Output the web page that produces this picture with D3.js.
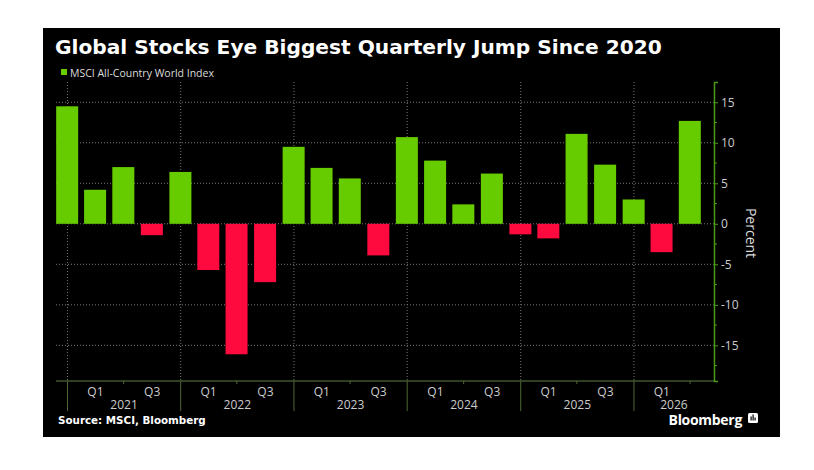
<!DOCTYPE html>
<html>
<head>
<meta charset="utf-8">
<script src="https://cdn.jsdelivr.net/npm/d3@7"></script>
<style>
  body { margin: 0; background: #fff; }
  text { font-family: "Open Sans", "DejaVu Sans", sans-serif; }
</style>
</head>
<body>
<svg id="chart" width="814" height="470"></svg>
<script>
// quarter end dates (bar positions) and MSCI ACWI quarterly % change
var quarterEnds = ["2020-12-31","2021-03-31","2021-06-30","2021-09-30","2021-12-31",
  "2022-03-31","2022-06-30","2022-09-30","2022-12-31","2023-03-31","2023-06-30",
  "2023-09-30","2023-12-31","2024-03-31","2024-06-30","2024-09-30","2024-12-31",
  "2025-03-31","2025-06-30","2025-09-30","2025-12-31","2026-03-31","2026-06-30"];
var changes = [14.5, 4.2, 7.0, -1.4, 6.4, -5.7, -16.1, -7.2, 9.5, 6.9, 5.6, -3.9,
  10.7, 7.8, 2.4, 6.2, -1.3, -1.8, 11.1, 7.3, 3.0, -3.5, 12.7];

var years = [2021, 2022, 2023, 2024, 2025, 2026];
var halfLabels = ["Q1", "Q3"];
var yTicks = [-15, -10, -5, 0, 5, 10, 15];
var yMinor = [-17.5, -12.5, -7.5, -2.5, 2.5, 7.5, 12.5];

var title = "Global Stocks Eye Biggest Quarterly Jump Since 2020";
var legendLabel = "MSCI All-Country World Index";
var source = "Source: MSCI, Bloomberg";

var GREEN = "#66cc00", RED = "#ff0a3f";

(function () {
var svg = d3.select("#chart");
var parse = d3.utcParse("%Y-%m-%d");
function d(y, m, day) { return new Date(Date.UTC(y, m, day)); }

// squeeze/stretch a text to a given width via font size
function fitWidth(sel, size, width) {
  var w = sel.node().getComputedTextLength();
  sel.attr("font-size", size * width / w);
}

// plot box
var pLeft = 56, pRight = 714, pTop = 82, pBottom = 381;

// black panel
svg.append("rect")
  .attr("x", 43).attr("y", 28)
  .attr("width", 737).attr("height", 409)
  .attr("fill", "#000");

var x = d3.scaleUtc()
  .domain([d(2020, 10, 25), d(2026, 8, 16)])
  .range([pLeft, pRight]);

var y = d3.scaleLinear()
  .domain([-19.4, 17.5])
  .range([pBottom, pTop]);

// title
var t = svg.append("text")
  .attr("x", 55).attr("y", 54)
  .attr("fill", "#fff")
  .style("font-family", "'DejaVu Sans', sans-serif")
  .attr("font-weight", "bold")
  .attr("font-size", 20)
  .text(title);
fitWidth(t, 20, 607);

// legend
svg.append("rect")
  .attr("x", 61).attr("y", 69)
  .attr("width", 6).attr("height", 6)
  .attr("fill", GREEN);
svg.append("text")
  .attr("x", 70).attr("y", 76.5)
  .attr("fill", "#ddd")
  .attr("font-size", 10.5)
  .text(legendLabel);

// grids
var grid = svg.append("g")
  .attr("stroke", "#777")
  .attr("stroke-dasharray", "1,2");
grid.selectAll("line.h").data(yTicks).join("line")
  .attr("class", "h")
  .attr("x1", pLeft).attr("x2", pRight)
  .attr("y1", v => y(v)).attr("y2", v => y(v));
grid.selectAll("line.v").data(years).join("line")
  .attr("class", "v")
  .attr("x1", yr => x(d(yr, 0, 1))).attr("x2", yr => x(d(yr, 0, 1)))
  .attr("y1", pTop).attr("y2", pBottom);

// bars
var barW = 22;
svg.append("g").selectAll("rect").data(changes).join("rect")
  .attr("x", (v, i) => x(parse(quarterEnds[i])) - barW / 2)
  .attr("width", barW)
  .attr("y", v => y(Math.max(0, v)))
  .attr("height", v => Math.abs(y(v) - y(0)))
  .attr("fill", v => v >= 0 ? GREEN : RED);

// x axis: year ticks long, mid-year short
var xAxis = svg.append("g").attr("transform", `translate(0,${pBottom})`);
xAxis.append("line")
  .attr("x1", pLeft).attr("x2", pRight)
  .attr("stroke", "#5d7d3c").attr("stroke-width", 1.2);
xAxis.selectAll("line.yr").data(years).join("line")
  .attr("class", "yr")
  .attr("x1", yr => x(d(yr, 0, 1))).attr("x2", yr => x(d(yr, 0, 1)))
  .attr("y1", 0).attr("y2", 30)
  .attr("stroke", "#4e6a34");
xAxis.selectAll("line.mid").data(years).join("line")
  .attr("class", "mid")
  .attr("x1", yr => x(d(yr, 6, 1))).attr("x2", yr => x(d(yr, 6, 1)))
  .attr("y1", 0).attr("y2", 3)
  .attr("stroke", "#4e6a34");

// Q1 / Q3 labels
var halfPos = [];
years.forEach(yr => {
  halfLabels.forEach((lab, k) => {
    var dt = d(yr, k * 6 + 3, 1);
    if (x(dt) < pRight) halfPos.push({ lab: lab, dt: dt });
  });
});
xAxis.selectAll("text.q").data(halfPos).join("text")
  .attr("class", "q")
  .attr("x", p => x(p.dt)).attr("y", 15)
  .attr("text-anchor", "middle")
  .attr("fill", "#ccc").attr("font-size", 12)
  .text(p => p.lab);
xAxis.selectAll("text.yr").data(years).join("text")
  .attr("class", "yr")
  .attr("x", yr => {
    var a = x(d(yr, 0, 1)), b = Math.min(x(d(yr + 1, 0, 1)), pRight);
    return (a + b) / 2;
  })
  .attr("y", 27.5)
  .attr("text-anchor", "middle")
  .attr("fill", "#ccc").attr("font-size", 12)
  .text(yr => yr);

// y axis on the right
var yAxis = svg.append("g")
  .attr("transform", `translate(${pRight},0)`)
  .call(d3.axisRight(y).tickValues(yTicks).tickSize(4).tickPadding(3).tickFormat(v => String(v)));
yAxis.select(".domain").attr("stroke", "#4b9a17").attr("stroke-width", 1.5);
yAxis.selectAll(".tick line").attr("stroke", "#4b9a17");
yAxis.selectAll(".tick text")
  .attr("fill", "#ccc").attr("font-size", 12)
  .attr("font-family", "'Open Sans', sans-serif");
yAxis.selectAll("line.minor").data(yMinor).join("line")
  .attr("class", "minor")
  .attr("x1", 0).attr("x2", 3)
  .attr("y1", v => y(v)).attr("y2", v => y(v))
  .attr("stroke", "#4b9a17");

svg.append("text")
  .attr("transform", "translate(746,233) rotate(90)")
  .attr("text-anchor", "middle")
  .attr("fill", "#ddd").attr("font-size", 14)
  .text("Percent");

// footer
var s = svg.append("text")
  .attr("x", 58).attr("y", 424)
  .attr("fill", "#fff")
  .style("font-family", "'DejaVu Sans', sans-serif")
  .attr("font-weight", "bold").attr("font-size", 10)
  .text(source);
fitWidth(s, 10, 148);
svg.append("text")
  .attr("x", 742).attr("y", 424.5)
  .attr("text-anchor", "end")
  .attr("fill", "#fff").attr("font-weight", "bold").attr("font-size", 14)
  .attr("letter-spacing", -0.3)
  .text("Bloomberg");
var logo = svg.append("g").attr("transform", "translate(748,413)");
logo.append("rect").attr("width", 10).attr("height", 10).attr("rx", 1.5).attr("fill", "#fff");
logo.selectAll("rect.b").data([4, 6, 3]).join("rect")
  .attr("class", "b")
  .attr("x", (h, i) => 2.5 + i * 2).attr("y", h => 7.5 - h)
  .attr("width", 1.2).attr("height", h => h)
  .attr("fill", "#000");
})();
</script>
</body>
</html>
